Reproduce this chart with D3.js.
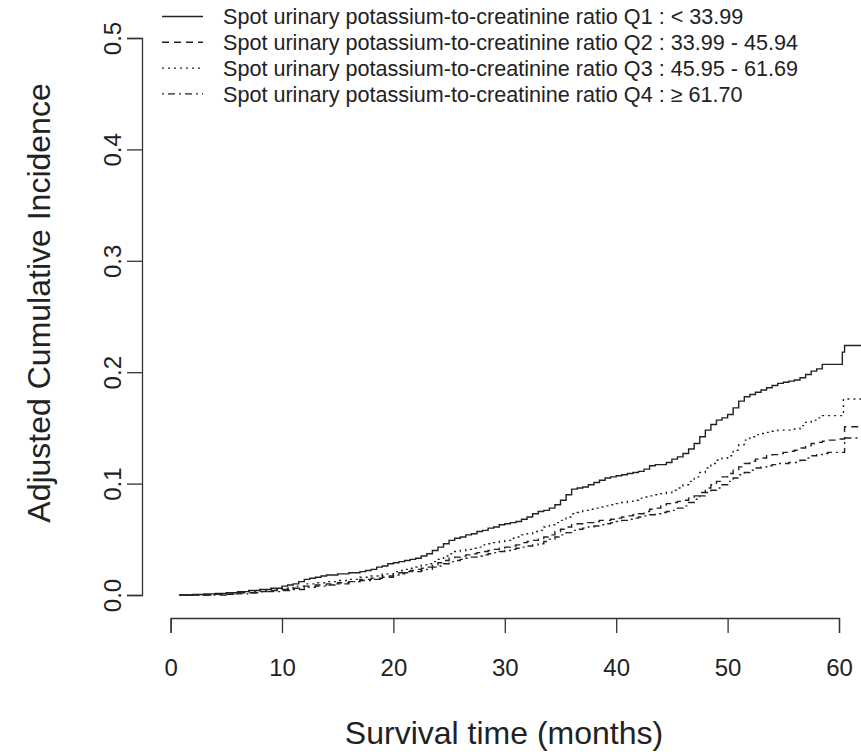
<!DOCTYPE html>
<html>
<head>
<meta charset="utf-8">
<script src="https://cdn.jsdelivr.net/npm/d3@7"></script>
<style>
  body { margin: 0; background: #fff; }
  svg text { font-family: "Liberation Sans", Arial, sans-serif; fill: #222; }
</style>
</head>
<body>
<div id="chart"></div>
<script>
// legend labels, one per quartile
var seriesNames = [
    "Spot urinary potassium-to-creatinine ratio Q1 : < 33.99",
    "Spot urinary potassium-to-creatinine ratio Q2 : 33.99 - 45.94",
    "Spot urinary potassium-to-creatinine ratio Q3 : 45.95 - 61.69",
    "Spot urinary potassium-to-creatinine ratio Q4 : \u2265 61.70"
];

// step curves, [months, cumulative incidence]
var q1 = [[0.8,0],[2,0.0005],[3,0.001],[4,0.0015],[5,0.002],[6,0.003],[7,0.004],[8,0.005],[9,0.006],[10,0.008],[10.5,0.009],[11,0.010],[11.5,0.012],[12,0.014],[12.5,0.015],[13,0.016],[13.5,0.017],[14,0.018],[15,0.019],[16,0.020],[17,0.021],[17.5,0.022],[18,0.023],[18.5,0.025],[19,0.026],[19.5,0.028],
    [20,0.029],[20.5,0.030],[21,0.031],[21.5,0.032],[22,0.033],[22.5,0.035],[23,0.037],[23.5,0.040],[24,0.043],[24.5,0.046],[25,0.049],[25.5,0.051],[26,0.052],[26.5,0.054],[27,0.055],[27.5,0.057],[28,0.058],[28.5,0.060],[29,0.061],[29.5,0.063],
    [30,0.064],[30.5,0.065],[31,0.066],[31.5,0.068],[32,0.070],[32.5,0.073],[33,0.075],[33.5,0.076],[34,0.078],[34.5,0.081],[35,0.085],[35.5,0.090],[36,0.095],[36.5,0.096],[37,0.097],[37.5,0.099],[38,0.101],[38.5,0.103],[39,0.105],[39.5,0.106],
    [40,0.107],[40.5,0.108],[41,0.109],[41.5,0.110],[42,0.111],[42.5,0.113],[43,0.116],[43.5,0.117],[44,0.117],[44.5,0.119],[45,0.122],[45.5,0.124],[46,0.127],[46.5,0.131],[47,0.136],[47.5,0.142],[48,0.148],[48.5,0.153],[49,0.157],[49.5,0.159],
    [50,0.162],[50.5,0.168],[51,0.174],[51.5,0.178],[52,0.180],[52.5,0.182],[53,0.184],[53.5,0.186],[54,0.188],[54.5,0.190],[55,0.191],[55.5,0.192],[56,0.193],[56.5,0.195],[57,0.198],[57.5,0.201],[58,0.203],[58.5,0.207],[60.3,0.218],[60.5,0.224],[62,0.224]];
var q2 = [[0.8,0],[4,0.0007],[6,0.002],[8,0.003],[9,0.004],[10,0.005],[11,0.006],[12,0.008],[13,0.009],[14,0.010],[15,0.011],[16,0.012],[17,0.014],[18,0.015],[19,0.017],
    [20,0.019],[20.5,0.020],[21,0.021],[21.5,0.022],[22,0.023],[22.5,0.024],[23,0.025],[23.5,0.027],[24,0.029],[24.5,0.031],[25,0.033],[25.5,0.034],[26,0.035],[26.5,0.036],[27,0.037],[27.5,0.038],[28,0.039],[28.5,0.040],[29,0.041],[29.5,0.042],
    [30,0.043],[30.5,0.044],[31,0.045],[31.5,0.047],[32,0.048],[32.5,0.049],[33,0.050],[33.5,0.052],[34,0.054],[34.5,0.057],[35,0.059],[35.5,0.061],[36,0.063],[36.5,0.064],[37,0.065],[38,0.066],[38.5,0.067],[39.5,0.068],
    [40,0.069],[40.5,0.070],[41,0.071],[41.5,0.072],[42,0.073],[42.5,0.075],[43,0.077],[43.5,0.078],[44,0.080],[44.5,0.082],[45,0.083],[45.5,0.084],[46,0.085],[46.5,0.087],[47,0.089],[47.5,0.092],[48,0.096],[48.5,0.099],[49,0.102],[49.5,0.106],
    [50,0.109],[50.5,0.112],[51,0.115],[51.5,0.118],[52,0.120],[52.5,0.122],[53,0.123],[53.5,0.125],[54,0.126],[54.5,0.127],[55,0.128],[55.5,0.129],[56,0.130],[56.5,0.132],[57,0.134],[57.5,0.136],[58,0.137],[58.5,0.138],[59,0.139],[60,0.140],[60.5,0.151],[62,0.151]];
var q3 = [[0.8,0],[4,0.001],[6,0.002],[7,0.003],[8,0.004],[9,0.005],[10,0.006],[11,0.008],[12,0.010],[13,0.011],[14,0.012],[15,0.013],[16,0.014],[17,0.016],[18,0.017],[19,0.019],
    [20,0.021],[20.5,0.022],[21,0.023],[21.5,0.024],[22,0.025],[22.5,0.027],[23,0.028],[23.5,0.030],[24,0.032],[24.5,0.035],[25,0.037],[25.5,0.039],[26,0.040],[26.5,0.041],[27,0.042],[27.5,0.043],[28,0.045],[28.5,0.046],[29,0.047],[29.5,0.048],
    [30,0.049],[30.5,0.051],[31,0.052],[31.5,0.054],[32,0.055],[32.5,0.057],[33,0.058],[33.5,0.061],[34,0.063],[34.5,0.065],[35,0.067],[35.5,0.070],[36,0.073],[36.5,0.074],[37,0.076],[37.5,0.077],[38,0.078],[38.5,0.079],[39,0.080],[39.5,0.081],
    [40,0.082],[40.5,0.083],[41,0.084],[41.5,0.085],[42,0.087],[42.5,0.088],[43,0.089],[43.5,0.090],[44,0.091],[44.5,0.092],[45,0.094],[45.5,0.096],[46,0.099],[46.5,0.102],[47,0.106],[47.5,0.110],[48,0.114],[48.5,0.118],[49,0.121],[49.5,0.123],
    [50,0.125],[50.5,0.130],[51,0.135],[51.5,0.139],[52,0.142],[52.5,0.144],[53,0.145],[53.5,0.146],[54,0.147],[54.5,0.148],[56,0.149],[56.5,0.152],[57,0.155],[57.5,0.157],[58,0.159],[58.5,0.161],[60.4,0.176],[62,0.176]];
var q4 = [[0.8,0],[5,0.001],[7,0.002],[8,0.003],[10,0.004],[11,0.005],[12,0.007],[13,0.008],[14,0.009],[15,0.010],[16,0.012],[17,0.013],[18,0.014],[19,0.016],
    [20,0.018],[20.5,0.019],[21,0.020],[21.5,0.021],[22.5,0.022],[23,0.023],[23.5,0.025],[24,0.026],[24.5,0.028],[25,0.030],[25.5,0.031],[26,0.032],[26.5,0.033],[27,0.034],[27.5,0.035],[28,0.036],[28.5,0.037],[29,0.038],[29.5,0.039],
    [30,0.040],[30.5,0.041],[31,0.042],[31.5,0.043],[32,0.044],[32.5,0.045],[33,0.046],[33.5,0.048],[34,0.050],[34.5,0.052],[35,0.054],[35.5,0.056],[36,0.058],[36.5,0.059],[37,0.060],[37.5,0.061],[38,0.062],[38.5,0.063],[39,0.064],[39.5,0.065],
    [40,0.066],[40.5,0.067],[41,0.068],[41.5,0.069],[42,0.070],[42.5,0.071],[43,0.072],[43.5,0.073],[44,0.074],[44.5,0.075],[45,0.076],[45.5,0.078],[46,0.080],[46.5,0.083],[47,0.086],[47.5,0.089],[48,0.092],[48.5,0.094],[49,0.096],[49.5,0.099],
    [50,0.102],[50.5,0.105],[51,0.108],[51.5,0.110],[52,0.112],[52.5,0.114],[53,0.115],[53.5,0.116],[54,0.117],[54.5,0.118],[55.5,0.119],[56.5,0.121],[57,0.123],[57.5,0.125],[58,0.126],[58.5,0.127],[59,0.128],[60.5,0.141],[62,0.141]];

var xTicks = [0, 10, 20, 30, 40, 50, 60];
var yTicks = [0.0, 0.1, 0.2, 0.3, 0.4, 0.5];

var series = [q1, q2, q3, q4];
var dashes = [null, "7,5", "2,4", "2,4,7,4"];

var width = 861, height = 752;

var x = d3.scaleLinear().domain([0, 60]).range([170.6, 839]);
var y = d3.scaleLinear().domain([0, 0.5]).range([595, 38]);

var svg = d3.select("#chart").append("svg")
    .attr("width", width)
    .attr("height", height);

// plot region clip (R extends 4% past the data range)
svg.append("clipPath").attr("id", "plotclip")
    .append("rect")
    .attr("x", 142).attr("y", 16)
    .attr("width", 760).attr("height", 602);

var line = d3.line()
    .curve(d3.curveStepAfter)
    .x(d => x(d[0]))
    .y(d => y(d[1]));

svg.append("g")
    .attr("clip-path", "url(#plotclip)")
    .selectAll("path")
    .data(series)
    .join("path")
    .attr("fill", "none")
    .attr("stroke", "#222")
    .attr("stroke-width", 1.4)
    .attr("stroke-dasharray", (d, i) => dashes[i])
    .attr("d", line);

// x axis
var gx = svg.append("g")
    .attr("transform", "translate(0,618)")
    .call(d3.axisBottom(x).tickValues(xTicks).tickSize(15).tickSizeOuter(15));
gx.selectAll("path, line").attr("stroke", "#333").attr("stroke-width", 1.3);
gx.selectAll("text")
    .attr("dy", null)
    .attr("y", 58)
    .style("font-size", "24px")
    .style("fill", "#222");

// y axis
var gy = svg.append("g")
    .attr("transform", "translate(142,0)")
    .call(d3.axisLeft(y).tickValues(yTicks).tickFormat(d3.format(".1f")).tickSize(15).tickSizeOuter(15));
gy.selectAll("path, line").attr("stroke", "#333").attr("stroke-width", 1.3);
gy.selectAll("text")
    .attr("x", null)
    .attr("dy", null)
    .attr("text-anchor", "middle")
    .attr("transform", "translate(-21,0) rotate(-90)")
    .style("font-size", "24px")
    .style("fill", "#222");

// axis titles
svg.append("text")
    .attr("x", 504).attr("y", 744)
    .attr("text-anchor", "middle")
    .style("font-size", "32px")
    .text("Survival time (months)");

svg.append("text")
    .attr("transform", "translate(50,303) rotate(-90)")
    .attr("text-anchor", "middle")
    .style("font-size", "32px")
    .text("Adjusted Cumulative Incidence");

// legend
var legend = svg.append("g");
seriesNames.forEach(function(name, i) {
    var ly = 16.5 + i * 25.8;
    legend.append("line")
        .attr("x1", 162).attr("x2", 203)
        .attr("y1", ly).attr("y2", ly)
        .attr("stroke", "#222")
        .attr("stroke-width", 1.4)
        .attr("stroke-dasharray", dashes[i]);
    legend.append("text")
        .attr("x", 223).attr("y", ly + 7.8)
        .style("font-size", "21.6px")
        .text(name);
});
</script>
</body>
</html>
